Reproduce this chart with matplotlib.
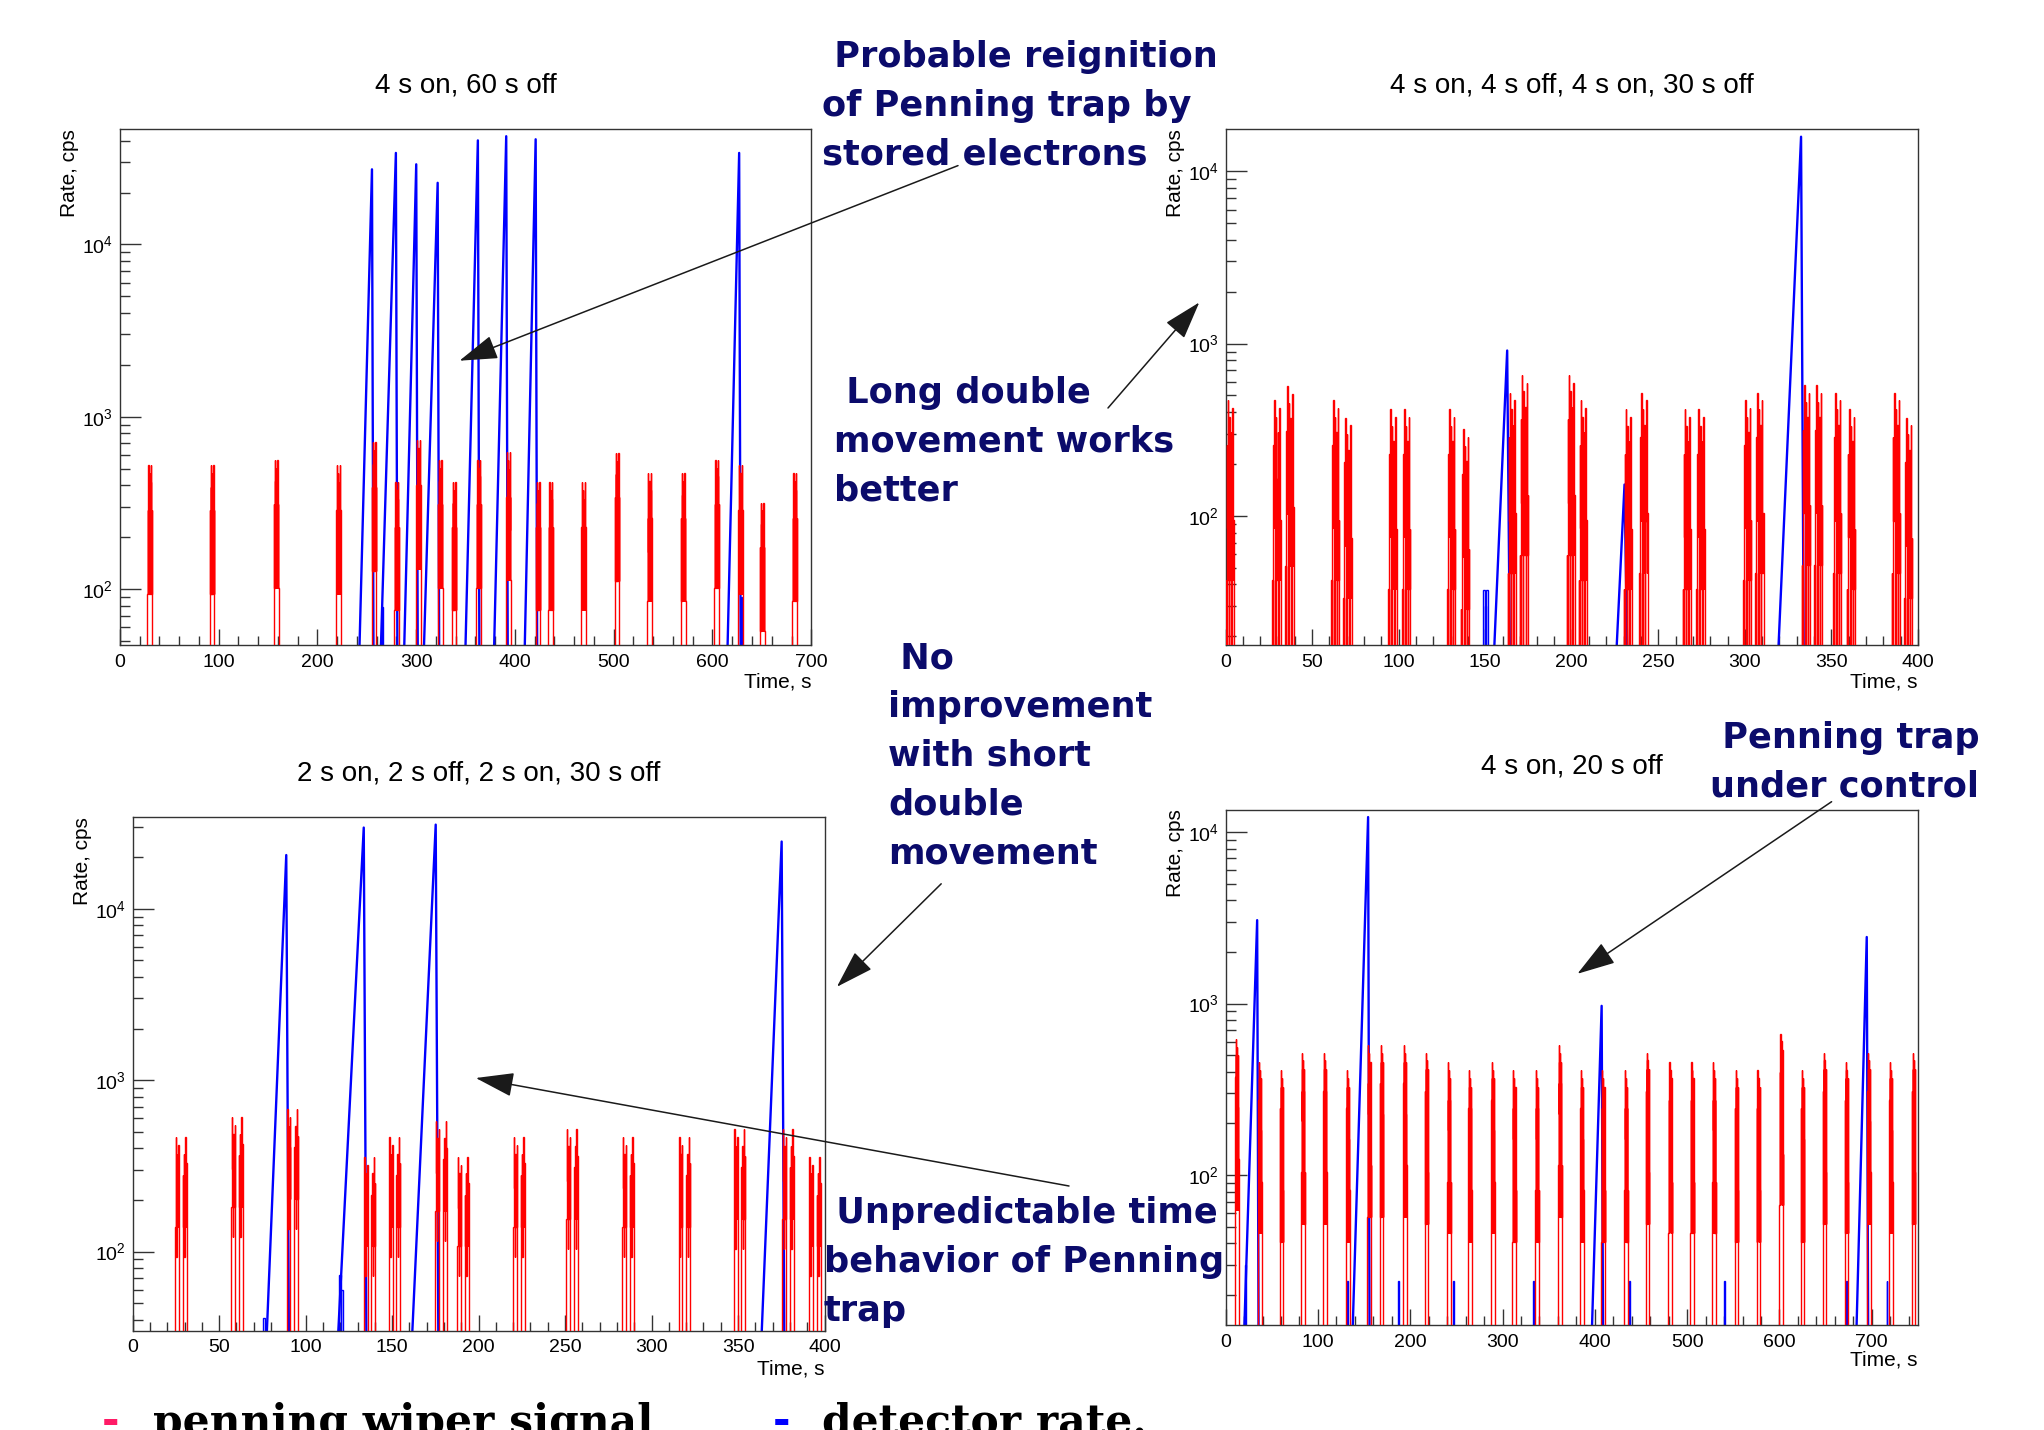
import numpy as np
import matplotlib.pyplot as plt
from matplotlib.patches import FancyArrowPatch
from matplotlib.ticker import MultipleLocator

plt.rcParams['font.family'] = ['Liberation Sans', 'DejaVu Sans']

# ---- panel 1: 4 s on, 60 s off
p1_wiper_t = [28, 91, 156, 219, 255, 278, 300, 322, 336, 361, 391, 421, 434, 467, 501, 534, 568, 602, 626, 648, 681]
p1_wiper_peak = [521, 521, 563, 521, 710, 418, 728, 563, 418, 563, 624, 418, 418, 418, 618, 470, 470, 563, 521, 317, 470]
p1_spike_start = [242.7, 264.4, 288, 308, 350, 379, 410, 615.3]
p1_spike_t = [255.3, 279.5, 300.1, 321.8, 362.5, 391.2, 421, 627]
p1_spike_peak = [27300, 34000, 29200, 22800, 40200, 42500, 40800, 34000]
p1_blip_t = [265.5, 629]
p1_blip_v = [78, 90]

# ---- panel 2: 4 s on, 4 s off, 4 s on, 30 s off
p2_wiper_t = [0, 27, 34.5, 61, 68, 94, 102, 128, 136, 163, 170, 197, 204, 230, 239, 264, 272, 299, 306, 333,
              340, 351, 359, 385, 392]
p2_wiper_peak = [470, 470, 566, 470, 372, 417, 417, 417, 319, 520, 660, 660, 470, 417, 520, 417, 417, 470, 520, 575,
                 575, 520, 417, 520, 372]
p2_spike_start = [155.3, 226, 319.5]
p2_spike_t = [162.7, 230.5, 332.5]
p2_spike_peak = [912, 152, 15900]
p2_blip_t = [148.6, 149.6, 150.6]
p2_blip_v = [37, 30, 37]

# ---- panel 3: 2 s on, 2 s off, 2 s on, 30 s off
p3_wiper_t = [24.5, 57, 89, 133.6, 148, 175, 187.6, 220, 250.7, 283, 315.6, 347.5, 375.5, 391]
p3_wiper_peak = [467, 608, 676, 358, 467, 575, 358, 467, 518, 467, 467, 518, 518, 358]
p3_spike_start = [77.6, 118.9, 161.7, 363.7]
p3_spike_t = [88.8, 133.6, 175.2, 375.2]
p3_spike_peak = [20600, 29800, 31000, 24700]
p3_blip_t = [75.5, 119.5, 120.5]
p3_blip_v = [41, 73, 60]

# ---- panel 4: 4 s on, 20 s off
p4_wiper_t = [10, 35, 58.6, 81.8, 105.5, 130.3, 153.5, 167, 192, 215.7, 240, 262.6, 287.4, 310.6, 335.4, 360.2,
              383.9, 407, 431.9, 455, 479.8, 503.5, 527.2, 551.5, 575.2, 600, 623.1, 646.8, 670.6, 694.8, 718.5, 743.3]
p4_wiper_peak = [624, 457, 408, 518, 518, 408, 570, 570, 570, 518, 457, 408, 457, 408, 408, 570, 408, 408, 408, 518,
                 457, 457, 457, 408, 408, 668, 408, 518, 457, 518, 457, 518]
p4_spike_start = [20.4, 137.8, 397, 683.6]
p4_spike_t = [34.2, 154.4, 407.4, 694.6]
p4_spike_peak = [3060, 12200, 969, 2440]
p4_blip_t = [21.5, 132, 187, 246, 333, 437, 540, 672, 716]
p4_blip_v = [30, 24, 24, 24, 24, 24, 24, 24, 24]

# relative bin contents inside one wiper burst (0 = empty bin)
shape_single = [0.18, 0.55, 0.18, 1.0, 0.35, 0.75, 0.18, 0.9, 0.55, 0.18, 0.8, 0.35, 1.0, 0.18, 0.55, 0.18]
shape_pair = [0.09, 0, 0.55, 0.18, 1.0, 0.09, 0, 0.8, 0.35, 0.09, 0.65, 0, 0.18, 0.9, 0.09, 0.2]
shape_double = [0.3, 1.0, 0.5, 0.2, 0.8, 0.6, 0.3, 0.9, 0, 0, 0, 0, 0, 0, 0, 0,
                0.6, 0.3, 0.8, 0.2, 0.5, 1.0, 0.3, 0.7]
shape_short = [0.1, 0.2, 0.6, 0.1, 1.0, 0.4, 0.8, 0.2, 0.9, 0.1, 0.6, 0.4, 0.2, 0.8, 0.1, 0.2]

FLOOR = 1e-2
navy = '#0b0b6b'


def wiper(ax, starts, peaks, shape, binw):
    for t0, pk in zip(starts, peaks):
        vals = [pk * s if s > 0 else FLOOR for s in shape]
        edges = t0 + binw * np.arange(len(shape) + 1)
        ax.stairs(vals, edges, baseline=FLOOR, color='red', lw=1.0, zorder=3)


def detector(ax, starts, tpk, peaks, blip_t, blip_v, ybot, drop=1.5):
    for t0, tp, pk in zip(starts, tpk, peaks):
        ax.plot([t0, tp, tp + drop], [ybot, pk, ybot], color='blue', lw=1.7, zorder=2)
    for t, v in zip(blip_t, blip_v):
        ax.stairs([v], [t, t + 1], baseline=FLOOR, color='blue', lw=1.0, zorder=2)


def style(ax, xmax, xmaj, xmin, ylim, title, tx, ty, ylab_x, xlab_y):
    ax.set_yscale('log')
    ax.set_xlim(0, xmax)
    ax.set_ylim(*ylim)
    ax.xaxis.set_major_locator(MultipleLocator(xmaj))
    ax.xaxis.set_minor_locator(MultipleLocator(xmin))
    ax.tick_params(axis='x', which='major', direction='in', length=11.5, width=1, color='#333333',
                   labelsize=14, pad=6, top=False)
    ax.tick_params(axis='x', which='minor', direction='in', length=6.3, width=1, color='#333333', top=False)
    ax.tick_params(axis='y', which='major', direction='in', length=15, width=1, color='#333333',
                   labelsize=14, pad=5, right=False)
    ax.tick_params(axis='y', which='minor', direction='in', length=7.2, width=1, color='#333333', right=False)
    for s in ax.spines.values():
        s.set_linewidth(1.0)
        s.set_color('#333333')
    ax.text(ylab_x, 1.0, 'Rate, cps', rotation=90, ha='center', va='top', fontsize=15, transform=ax.transAxes)
    ax.text(1.0, xlab_y, 'Time, s', ha='right', va='center', fontsize=15, transform=ax.transAxes)
    fig.text(tx, ty, title, ha='center', va='center', fontsize=20)


fig = plt.figure(figsize=(20.44, 14.30), dpi=100)

ax1 = fig.add_axes([0.0586, 0.5487, 0.3383, 0.3613])
detector(ax1, p1_spike_start, p1_spike_t, p1_spike_peak, p1_blip_t, p1_blip_v, 47)
wiper(ax1, p1_wiper_t, p1_wiper_peak, shape_single, 0.3)
style(ax1, 700, 100, 20, (47, 47000), '4 s on, 60 s off', 0.2277, 0.9399, -0.072, -0.071)

ax2 = fig.add_axes([0.5996, 0.5487, 0.3387, 0.3613])
detector(ax2, p2_spike_start, p2_spike_t, p2_spike_peak, p2_blip_t, p2_blip_v, 17.7)
wiper(ax2, p2_wiper_t, p2_wiper_peak, shape_pair, 0.3)
style(ax2, 400, 50, 10, (17.7, 17700), '4 s on, 4 s off, 4 s on, 30 s off', 0.7689, 0.9399, -0.073, -0.071)

ax3 = fig.add_axes([0.0649, 0.0692, 0.3385, 0.3594])
detector(ax3, p3_spike_start, p3_spike_t, p3_spike_peak, p3_blip_t, p3_blip_v, 34.4)
wiper(ax3, p3_wiper_t, p3_wiper_peak, shape_double, 0.28)
style(ax3, 400, 50, 10, (34.4, 34300), '2 s on, 2 s off, 2 s on, 30 s off', 0.2341, 0.4594, -0.072, -0.074)

ax4 = fig.add_axes([0.5996, 0.0731, 0.3387, 0.3608])
detector(ax4, p4_spike_start, p4_spike_t, p4_spike_peak, p4_blip_t, p4_blip_v, 13.3)
wiper(ax4, p4_wiper_t, p4_wiper_peak, shape_short, 0.25)
style(ax4, 750, 100, 20, (13.3, 13500), '4 s on, 20 s off', 0.7689, 0.464, -0.073, -0.066)

# annotations
notes = [
    (' Probable reignition\nof Penning trap by\nstored electrons', 822, 40),
    (' Long double\nmovement works\nbetter', 834, 376),
    (' No\nimprovement\nwith short\ndouble\nmovement', 888, 641),
    (' Penning trap\nunder control', 1710, 721),
    (' Unpredictable time\nbehavior of Penning\ntrap', 824, 1196),
]
for txt, x, y in notes:
    fig.text(x / 2044, 1 - y / 1430, txt, ha='left', va='top', fontsize=25.3, fontweight='bold',
             family='DejaVu Sans', color=navy, linespacing=1.55)

arrows = [
    ((958, 165.6), (459.5, 360.7)),
    ((1108, 408), (1199.3, 302.4)),
    ((941.2, 883.8), (836.9, 986.8)),
    ((1069, 1186), (475.8, 1078)),
    ((1831.6, 801.7), (1577.4, 973.8)),
]
for (x0, y0), (x1, y1) in arrows:
    fig.add_artist(FancyArrowPatch((x0 / 2044, 1 - y0 / 1430), (x1 / 2044, 1 - y1 / 1430),
                                   transform=fig.transFigure, arrowstyle='-|>,head_length=1.2,head_width=0.38',
                                   mutation_scale=20, color='#1a1a1a', lw=1.1, shrinkA=0, shrinkB=0))

# bottom key (cut by the slide edge)
key_font = dict(fontsize=30.5, fontweight='bold', family='DejaVu Serif', va='baseline')
fig.text(102 / 2044, -0.003, '-', color='#ff1a66', **key_font)
fig.text(153 / 2044, -0.003, 'penning wiper signal', color='black', **key_font)
fig.text(773 / 2044, -0.003, '-', color='#0000ff', **key_font)
fig.text(822 / 2044, -0.003, 'detector rate.', color='black', **key_font)

fig.savefig('out.png', dpi=100)
